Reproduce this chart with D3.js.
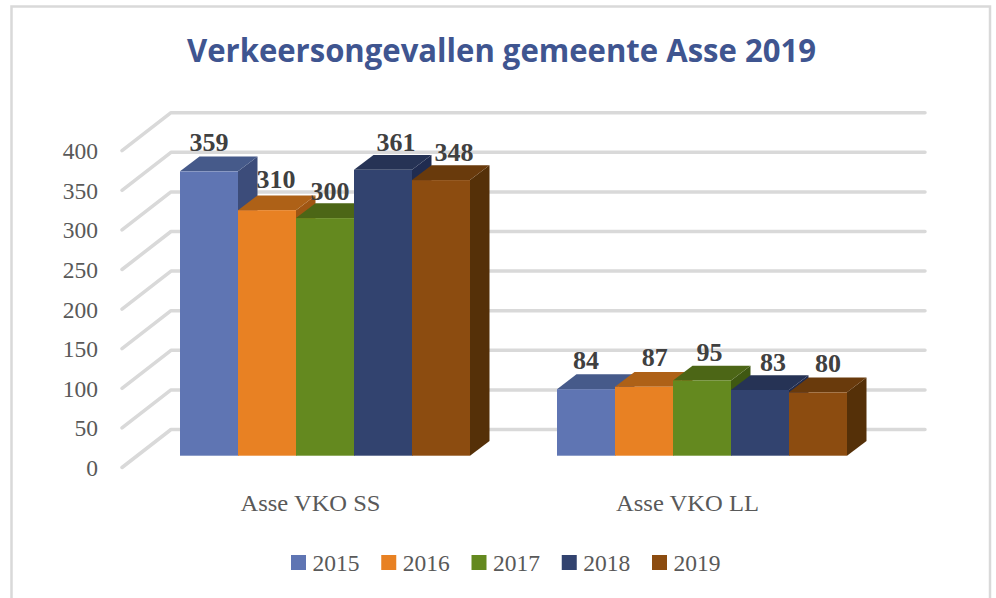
<!DOCTYPE html>
<html>
<head>
<meta charset="utf-8">
<script src="https://cdn.jsdelivr.net/npm/d3@7"></script>
<style>html,body{margin:0;padding:0;background:#fff;overflow:hidden}svg{display:block}</style>
</head>
<body>
<svg id="chart" width="996" height="598"></svg>
<script>
const categories = ["Asse VKO SS", "Asse VKO LL"];
const years = ["2015", "2016", "2017", "2018", "2019"];
const valuesSS = [359, 310, 300, 361, 348];
const valuesLL = [84, 87, 95, 83, 80];
const yTicks = [0, 50, 100, 150, 200, 250, 300, 350, 400];
const frontColors = ["#5f75b3", "#e88123", "#64891f", "#32436f", "#8c4c10"];
const topColors = ["#465a8a", "#ae6117", "#4c6616", "#263355", "#693a0c"];
const sideColors = ["#3c4c7a", "#a05613", "#3f5812", "#202c50", "#553008"];
const titleText = "Verkeersongevallen gemeente Asse 2019";

// manual label placement, as in the source chart
const labelNudgeX = [[0, 9, 5, 13, 13], [0, 10.7, 7.5, 13, 10]];
const labelNudgeY = [[20, 22, 18.5, 19, 19], [20, 20.5, 19.5, 19, 20]];
const categoryLabelWidths = [140, 143];

const svg = d3.select("#chart");
const serif = "'Liberation Serif', serif";

// frame
svg.append("rect").attr("x", 11.5).attr("y", 6.5).attr("width", 978.5).attr("height", 620)
  .attr("fill", "#fff").attr("stroke", "#d9d9d9").attr("stroke-width", 2.5);

// title
svg.append("text").attr("x", 187).attr("y", 62)
  .attr("textLength", 629).attr("lengthAdjust", "spacingAndGlyphs")
  .attr("font-family", "'Open Sans', sans-serif").attr("font-weight", 700).attr("font-size", 33)
  .attr("fill", "#3f5590").text(titleText);

// scales
const base = 455.7, depthX = 19.5, depthY = 14.8;
const y = d3.scaleLinear().domain([0, 400]).range([base, base - 316.8]);
const x0 = d3.scaleBand().domain(categories).range([136.5, 890.5]);
const x1 = d3.scaleBand().domain(years).range([0, 290]);
const groupPad = (x0.bandwidth() - 290) / 2;

// walls and gridlines
const wallBackDX = 34.5, wallBackDY = -26.2, wallFrontDX = -14.5, wallFrontDY = 11.8;
const grid = svg.append("g").attr("fill", "none").attr("stroke", "#d9d9d9")
  .attr("stroke-width", 3.5).attr("stroke-linecap", "round").attr("stroke-linejoin", "round");
grid.selectAll("path").data(yTicks).join("path")
  .attr("d", d => {
    const p = d3.path();
    p.moveTo(x0.range()[0] + wallFrontDX, y(d) + wallFrontDY);
    p.lineTo(x0.range()[0] + wallBackDX, y(d) + wallBackDY);
    p.lineTo(x0.range()[1] + wallBackDX, y(d) + wallBackDY);
    return p.toString();
  });

// y labels
svg.append("g").selectAll("text").data(yTicks).join("text")
  .attr("x", 98).attr("y", d => y(d) + wallFrontDY + 8.5).attr("text-anchor", "end")
  .attr("font-family", serif).attr("font-size", 23.5).attr("fill", "#595959").text(d => d);

// bars
const series = [valuesSS, valuesLL];
const pts = a => a.map(q => q.join(",")).join(" ");
series.forEach((vals, g) => {
  const gx = x0(categories[g]) + groupPad;
  vals.forEach((v, i) => {
    const l = gx + x1(years[i]), r = l + x1.bandwidth(), t = y(v), b = y(0);
    const bar = svg.append("g");
    bar.append("polygon").attr("fill", sideColors[i])
      .attr("points", pts([[r, t], [r + depthX, t - depthY], [r + depthX, b - depthY], [r, b]]));
    bar.append("polygon").attr("fill", topColors[i])
      .attr("points", pts([[l, t], [l + depthX, t - depthY], [r + depthX, t - depthY], [r, t]]));
    bar.append("rect").attr("x", l).attr("y", t).attr("width", x1.bandwidth()).attr("height", b - t)
      .attr("fill", frontColors[i]);
  });
});

// value labels
series.forEach((vals, g) => {
  const gx = x0(categories[g]) + groupPad;
  svg.append("g").selectAll("text").data(vals).join("text")
    .attr("x", (v, i) => gx + x1(years[i]) + x1.bandwidth() / 2 + labelNudgeX[g][i])
    .attr("y", (v, i) => y(v) - labelNudgeY[g][i])
    .attr("text-anchor", "middle").attr("font-family", serif).attr("font-weight", 700)
    .attr("font-size", 26).attr("fill", "#404040").text(v => v);
});

// category labels
svg.append("g").selectAll("text").data(categories).join("text")
  .attr("x", (d, i) => x0(d) + x0.bandwidth() / 2 + wallFrontDX - categoryLabelWidths[i] / 2)
  .attr("y", 510.5).attr("textLength", (d, i) => categoryLabelWidths[i]).attr("lengthAdjust", "spacingAndGlyphs")
  .attr("font-family", serif).attr("font-size", 24).attr("fill", "#595959").text(d => d);

// legend
const lx = d3.scalePoint().domain(years).range([291, 652]);
const leg = svg.append("g").selectAll("g").data(years).join("g")
  .attr("transform", d => `translate(${lx(d)},555)`);
leg.append("rect").attr("width", 15).attr("height", 15).attr("fill", (d, i) => frontColors[i]);
leg.append("text").attr("x", 21.5).attr("y", 15.5).attr("font-family", serif).attr("font-size", 23.5)
  .attr("fill", "#595959").text(d => d);
</script>
</body>
</html>
